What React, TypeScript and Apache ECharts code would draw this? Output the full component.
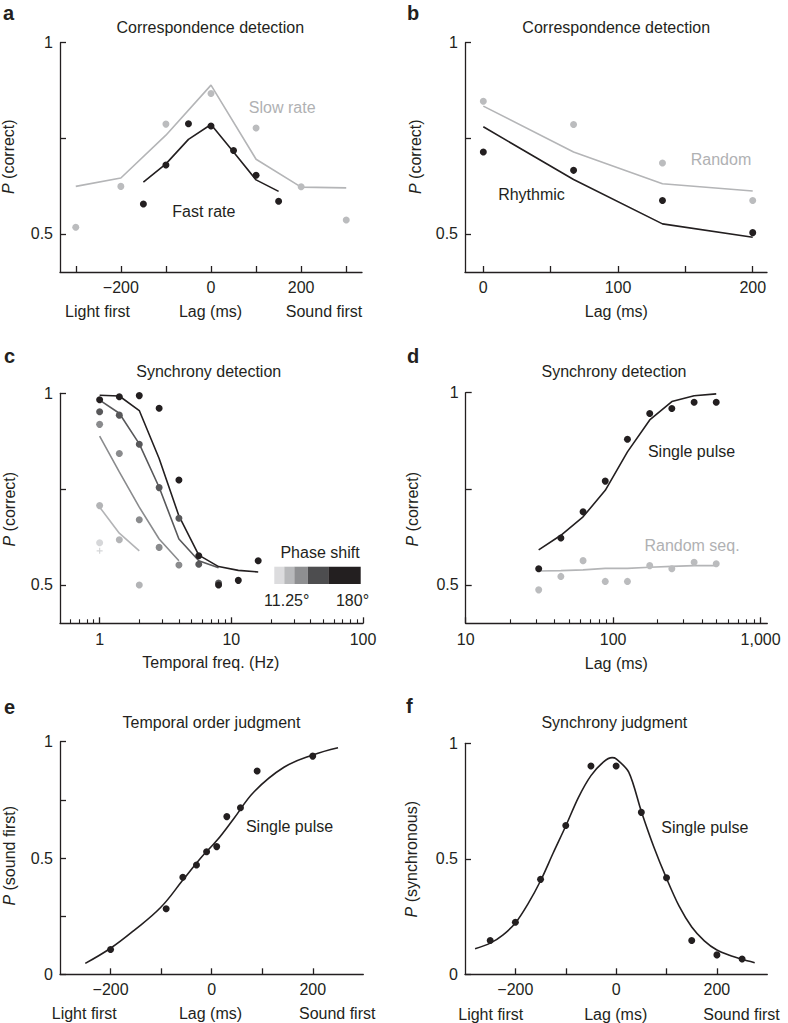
import React, { useEffect, useRef } from "react";
import * as echarts from "echarts";

const INK = "#231f20";
const GRAY_DOT = "#bbbcbe";
const GRAY_LINE = "#b4b5b7";
const GRAY_TEXT = "#b0b1b3";
const FONT = '"Liberation Sans", Arial, Helvetica, sans-serif';

// ---------- Panel a: correspondence detection (slow / fast rate) ----------
const aLag = [-300, -200, -100, 0, 100, 200, 300];
const aSlowDots = [0.517, 0.624, 0.787, 0.867, 0.777, 0.623, 0.536];
const aSlowLine = [0.624, 0.646, 0.758, 0.889, 0.695, 0.622, 0.62];
const aFastLag = [-150, -100, -50, 0, 50, 100, 150];
const aFastDots = [0.578, 0.68, 0.788, 0.782, 0.718, 0.653, 0.585];
const aFastLine = [0.635, 0.683, 0.747, 0.786, 0.714, 0.641, 0.611];

// ---------- Panel b: correspondence detection (random / rhythmic) ----------
const bLag = [0, 67, 133, 200];
const bRandomDots = [0.847, 0.786, 0.685, 0.587];
const bRandomLine = [0.834, 0.714, 0.631, 0.612];
const bRhythmicDots = [0.714, 0.666, 0.587, 0.503];
const bRhythmicLine = [0.78, 0.642, 0.526, 0.491];

// ---------- Panel c: synchrony detection vs temporal frequency ----------
const cFreq = [1, 1.41, 2, 2.83, 4, 5.66, 8, 11.3, 16];
const c11Dots = [0.61];
const c11Plus = [0.589];
const c22Dots = [0.707, 0.618, 0.5];
const c22Line = [0.703, 0.635, 0.589];
const c45Dots = [0.919, 0.843, 0.67, 0.598, 0.552];
const c45Line = [0.888, 0.795, 0.703, 0.62, 0.563];
const c90Dots = [0.952, 0.943, 0.867, 0.754, 0.674, 0.554, 0.505];
const c90Line = [0.982, 0.948, 0.868, 0.755, 0.62, 0.563, 0.545];
const c180Dots = [0.983, 0.991, 0.994, 0.961, 0.774, 0.576, 0.5, 0.512, 0.563];
const c180Line = [0.995, 0.993, 0.955, 0.83, 0.68, 0.578, 0.548, 0.538, 0.534];
const phaseColors = ["#d6d7d9", "#b3b4b6", "#8a8b8d", "#58585a", "#231f20"];
const barColors = ["#dcdcde", "#b8b9bb", "#8e8f91", "#4d4d4f", "#231f20"];

// ---------- Panel d: synchrony detection vs lag ----------
const dLag = [31.25, 44.2, 62.5, 88.4, 125, 177, 250, 354, 500];
const dSingleDots = [0.542, 0.622, 0.69, 0.77, 0.879, 0.946, 0.959, 0.975, 0.975];
const dSingleLine = [0.591, 0.629, 0.677, 0.746, 0.846, 0.929, 0.977, 0.992, 0.997];
const dRandomDots = [0.487, 0.522, 0.563, 0.509, 0.509, 0.55, 0.542, 0.559, 0.555];
const dRandomLine = [0.536, 0.537, 0.539, 0.543, 0.543, 0.546, 0.548, 0.55, 0.55];

// ---------- Panel e: temporal order judgment ----------
const eLagDots = [-200, -90, -57, -30, -10, 10, 30, 57, 90, 200];
const eDots = [0.107, 0.282, 0.417, 0.47, 0.527, 0.549, 0.678, 0.716, 0.874, 0.938];
const eCurveLag = [-250, -200, -154, -101, -57, -22, 11, 44, 84, 143, 200, 250];
const eCurve = [0.047, 0.112, 0.188, 0.287, 0.405, 0.499, 0.577, 0.67, 0.785, 0.89, 0.943, 0.974];

// ---------- Panel f: synchrony judgment ----------
const fLagDots = [-250, -200, -150, -100, -50, 0, 50, 100, 150, 200, 250];
const fDots = [0.146, 0.225, 0.411, 0.644, 0.902, 0.902, 0.701, 0.418, 0.146, 0.084, 0.066];
const fCurveLag = [-280, -250, -225, -200, -175, -150, -125, -100, -75, -50, -25, -8, 0, 25, 50, 75, 100, 125, 150, 175, 200, 225, 250, 275];
const fCurve = [0.111, 0.135, 0.17, 0.222, 0.305, 0.405, 0.525, 0.642, 0.765, 0.86, 0.92, 0.938, 0.933, 0.875, 0.705, 0.55, 0.415, 0.295, 0.205, 0.145, 0.105, 0.082, 0.065, 0.05];

// ---------- tick definitions ----------
const aTicks = [-300, -200, -100, 0, 100, 200, 300];
const aTickLabels = [-200, 0, 200];
const bTicks = [0, 50, 100, 150, 200];
const bTickLabels = [0, 100, 200];
const pTicks = [0.5, 0.75, 1];
const pTickLabels = [0.5, 1];
const cMajor = [1, 10, 100];
const cMinor = [0.6, 0.7, 0.8, 0.9, 2, 3, 4, 5, 6, 7, 8, 9, 20, 30, 40, 50, 60, 70, 80, 90];
const dMajor = [10, 100, 1000];
const dMinor = [20, 30, 40, 50, 60, 70, 80, 90, 200, 300, 400, 500, 600, 700, 800, 900];
const efTicks = [-200, -100, 0, 100, 200];
const efTickLabels = [-200, 0, 200];
const eYTicks = [0, 0.25, 0.5, 0.75, 1];
const fYTicks = [0, 0.5, 1];
const efYLabels = [0, 0.5, 1];

const xy = (xs: number[], ys: number[]) => ys.map((y, i) => [xs[i], y]);
const fmtMinus = (v: number) => (v < 0 ? "\u2212" + Math.abs(v) : String(v));
const fmtThousands = (v: number) => (v >= 1000 ? "1,000" : String(v));

function axis(
  gridIndex: number,
  type: string,
  min: number,
  max: number,
  ticks: number[],
  labels: number[],
  formatter: any,
  extra: any = {}
) {
  return {
    type,
    gridIndex,
    min,
    max,
    logBase: 10,
    axisLine: { show: true, onZero: false, lineStyle: { color: INK, width: 1.3 } },
    axisTick: {
      show: true,
      inside: true,
      length: 6,
      customValues: ticks,
      lineStyle: { color: INK, width: 1.3 },
    },
    axisLabel: {
      show: true,
      customValues: labels,
      formatter,
      fontSize: 16,
      color: INK,
      fontFamily: FONT,
      margin: 7,
    },
    splitLine: { show: false },
    minorTick: { show: false },
    ...extra,
  };
}

function minorAxis(gridIndex: number, min: number, max: number, ticks: number[]) {
  return {
    type: "log",
    logBase: 10,
    gridIndex,
    position: "bottom",
    min,
    max,
    axisLine: { show: false },
    axisTick: {
      show: true,
      inside: true,
      length: 4,
      customValues: ticks,
      lineStyle: { color: INK, width: 1.1 },
    },
    axisLabel: { show: false },
    splitLine: { show: false },
  };
}

const line = (xi: number, data: number[][], color: string, width = 1.6, smooth: any = false) => ({
  type: "line",
  xAxisIndex: xi,
  yAxisIndex: xi,
  data,
  symbol: "none",
  smooth,
  lineStyle: { color, width },
  silent: true,
  z: 2,
});

const dots = (xi: number, data: number[][], color: string, size = 7, symbol = "circle") => ({
  type: "scatter",
  xAxisIndex: xi,
  yAxisIndex: xi,
  data,
  symbol,
  symbolSize: size,
  itemStyle: { color, opacity: 1 },
  silent: true,
  z: 3,
});

const txt = (text: string, x: number, y: number, o: any = {}) => ({
  type: "text",
  x,
  y,
  rotation: o.rotation || 0,
  silent: true,
  z: 10,
  style: {
    text,
    fill: o.fill || INK,
    fontSize: o.size || 16,
    fontFamily: FONT,
    fontWeight: o.weight || "normal",
    align: o.align || "center",
    textAlign: o.align || "center",
    verticalAlign: "middle",
    textVerticalAlign: "middle",
    rich: o.rich,
  },
});

const italicRich = {
  i: { fontStyle: "italic", fontSize: 16, fontFamily: FONT, fill: INK, color: INK },
  n: { fontSize: 16, fontFamily: FONT, fill: INK, color: INK },
};
const yName = (rest: string, x: number, y: number) =>
  txt("{i|P}{n| " + rest + "}", x, y, { rotation: Math.PI / 2, rich: italicRich });

const barX = [274.3, 284.3, 294.3, 307.7, 328.3, 360.7];

export default function App() {
  const ref = useRef<HTMLDivElement>(null);

  useEffect(() => {
    document.body.style.margin = "0";
    if (!ref.current) return;
    const chart = echarts.init(ref.current, undefined, { renderer: "svg" });

    const grids = [
      { left: 60, top: 42.7, width: 302, height: 229.3 },
      { left: 465, top: 42.7, width: 302, height: 229.3 },
      { left: 60, top: 393.3, width: 303, height: 230 },
      { left: 465.7, top: 392.7, width: 301.6, height: 230.6 },
      { left: 60, top: 741.7, width: 303.3, height: 232.6 },
      { left: 465, top: 743.3, width: 302.3, height: 231 },
    ].map((g) => ({ ...g, containLabel: false, show: false }));

    const xAxes = [
      axis(0, "value", -335, 335, aTicks, aTickLabels, fmtMinus),
      axis(1, "value", -13.6, 210.6, bTicks, bTickLabels, fmtMinus),
      axis(2, "log", 0.5, 100, cMajor, cMajor, (v: number) => String(v), { position: "bottom", axisLabel: { show: true, customValues: cMajor, fontSize: 16, color: INK, fontFamily: FONT, margin: 8 } }),
      axis(3, "log", 10, 1110, dMajor, dMajor, fmtThousands, { position: "bottom", axisLabel: { show: true, customValues: dMajor, formatter: fmtThousands, fontSize: 16, color: INK, fontFamily: FONT, margin: 8 } }),
      axis(4, "value", -300, 300, efTicks, efTickLabels, fmtMinus),
      axis(5, "value", -300, 300, efTicks, efTickLabels, fmtMinus),
      minorAxis(2, 0.5, 100, cMinor),
      minorAxis(3, 10, 1110, dMinor),
    ];

    const fmtP = (v: number) => String(v);
    const yAxes = [
      axis(0, "value", 0.4, 1, pTicks, pTickLabels, fmtP),
      axis(1, "value", 0.4, 1, pTicks, pTickLabels, fmtP),
      axis(2, "value", 0.4, 1, pTicks, pTickLabels, fmtP),
      axis(3, "value", 0.4, 1, pTicks, pTickLabels, fmtP),
      axis(4, "value", 0, 1, eYTicks, efYLabels, fmtP),
      axis(5, "value", 0, 1, fYTicks, efYLabels, fmtP),
    ];

    const series: any[] = [
      // a
      line(0, xy(aLag, aSlowLine), GRAY_LINE),
      dots(0, xy(aLag, aSlowDots), GRAY_DOT),
      line(0, xy(aFastLag, aFastLine), INK),
      dots(0, xy(aFastLag, aFastDots), INK),
      // b
      line(1, xy(bLag, bRandomLine), GRAY_LINE),
      dots(1, xy(bLag, bRandomDots), GRAY_DOT),
      line(1, xy(bLag, bRhythmicLine), INK),
      dots(1, xy(bLag, bRhythmicDots), INK),
      // c
      dots(2, xy(cFreq, c11Dots), phaseColors[0]),
      dots(2, xy(cFreq, c11Plus), phaseColors[0], 6, "path://M2,0H3V2H5V3H3V5H2V3H0V2H2Z"),
      line(2, xy(cFreq, c22Line), phaseColors[1]),
      dots(2, xy(cFreq, c22Dots), phaseColors[1]),
      line(2, xy(cFreq, c45Line), phaseColors[2]),
      dots(2, xy(cFreq, c45Dots), phaseColors[2]),
      line(2, xy(cFreq, c90Line), phaseColors[3]),
      dots(2, xy(cFreq, c90Dots), phaseColors[3]),
      line(2, xy(cFreq, c180Line), phaseColors[4]),
      dots(2, xy(cFreq, c180Dots), phaseColors[4]),
      // d
      line(3, xy(dLag, dRandomLine), GRAY_LINE),
      dots(3, xy(dLag, dRandomDots), GRAY_DOT),
      line(3, xy(dLag, dSingleLine), INK),
      dots(3, xy(dLag, dSingleDots), INK),
      // e
      line(4, xy(eCurveLag, eCurve), INK, 1.6, 0.4),
      dots(4, xy(eLagDots, eDots), INK),
      // f
      line(5, xy(fCurveLag, fCurve), INK, 1.6, 0.3),
      dots(5, xy(fLagDots, fDots), INK),
    ];

    const graphics: any[] = [
      // panel letters
      txt("a", 3, 13, { size: 20, weight: "bold", align: "left" }),
      txt("b", 407, 13, { size: 20, weight: "bold", align: "left" }),
      txt("c", 4, 356.4, { size: 20, weight: "bold", align: "left" }),
      txt("d", 407, 356.4, { size: 20, weight: "bold", align: "left" }),
      txt("e", 4, 707, { size: 20, weight: "bold", align: "left" }),
      txt("f", 406, 706.4, { size: 20, weight: "bold", align: "left" }),
      // titles
      txt("Correspondence detection", 210.3, 27.8),
      txt("Correspondence detection", 616.2, 27.8),
      txt("Synchrony detection", 208.7, 371.2),
      txt("Synchrony detection", 614, 371.2),
      txt("Temporal order judgment", 211.5, 722.8),
      txt("Synchrony judgment", 614.3, 722.8),
      // y names
      yName("(correct)", 8.5, 156.7),
      yName("(correct)", 415, 156.7),
      yName("(correct)", 9, 509.2),
      yName("(correct)", 412.7, 509.2),
      yName("(sound first)", 9, 855.8),
      yName("(synchronous)", 411.7, 859.2),
      // x names
      txt("Light first", 97.5, 311.2),
      txt("Lag (ms)", 210.5, 311.2),
      txt("Sound first", 324, 311.2),
      txt("Lag (ms)", 616.3, 311.2),
      txt("Temporal freq. (Hz)", 210.8, 662.7),
      txt("Lag (ms)", 616.3, 663.5),
      txt("Light first", 84.2, 1013.8),
      txt("Lag (ms)", 210.5, 1013.8),
      txt("Sound first", 337.2, 1013.8),
      txt("Light first", 490.7, 1014),
      txt("Lag (ms)", 615.7, 1014),
      txt("Sound first", 741.5, 1014),
      // annotations
      txt("Slow rate", 282.2, 107.8, { fill: GRAY_TEXT }),
      txt("Fast rate", 203.8, 211.7),
      txt("Random", 721, 159.3, { fill: GRAY_TEXT }),
      txt("Rhythmic", 531.5, 194.3),
      txt("Phase shift", 320, 552.7),
      txt("11.25°", 286.7, 600),
      txt("180°", 352.5, 600),
      txt("Single pulse", 691.5, 451),
      txt("Random seq.", 692, 545.3, { fill: GRAY_TEXT }),
      txt("Single pulse", 289.5, 826),
      txt("Single pulse", 704.8, 827.7),
      // colour bar legend
      ...barColors.map((c, i) => ({
        type: "rect",
        silent: true,
        shape: { x: barX[i], y: 566.7, width: barX[i + 1] - barX[i], height: 17.3 },
        style: { fill: c },
        z: 10,
      })),
    ];

    chart.setOption({
      animation: false,
      backgroundColor: "#ffffff",
      textStyle: { fontFamily: FONT },
      grid: grids,
      xAxis: xAxes,
      yAxis: yAxes,
      series,
      graphic: { elements: graphics },
    });

    return () => chart.dispose();
  }, []);

  return <div ref={ref} style={{ width: 788, height: 1023 }} />;
}
